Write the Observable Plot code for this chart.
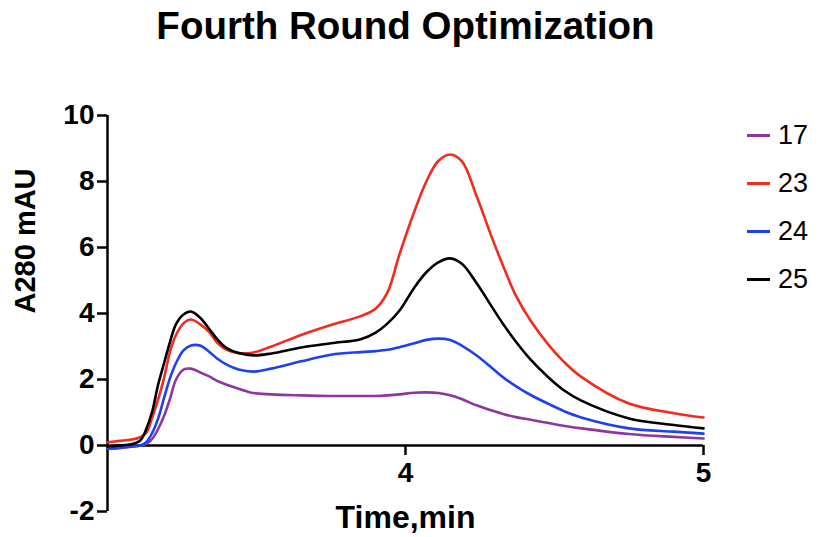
<!DOCTYPE html>
<html>
<head>
<meta charset="utf-8">
<script src="https://cdn.jsdelivr.net/npm/d3@7"></script>
<script src="https://cdn.jsdelivr.net/npm/@observablehq/plot@0.6"></script>
<style>
  html, body { margin: 0; padding: 0; background: #fff; }
  #wrap { position: relative; width: 819px; height: 537px; font-family: "Liberation Sans", Arial, Helvetica, sans-serif; }
  #title { position: absolute; left: 0; top: 0; width: 811px; text-align: center; font-size: 38.5px; font-weight: bold; line-height: 38px; padding-top: 7px; color: #000; }
  #chart { position: absolute; left: 0; top: 62px; }
  #legend { position: absolute; left: 746px; top: 116px; }
  .item { position: relative; height: 48px; }
  .sw { position: absolute; left: 1px; top: 18px; width: 23px; height: 3px; }
  .lab { position: absolute; left: 32px; top: 0px; font-size: 27px; line-height: 38px; color: #000; }
</style>
</head>
<body>
<div id="wrap">
  <div id="title">Fourth Round Optimization</div>
  <div id="chart"></div>
  <div id="legend"></div>
</div>
<script>
const title = "Fourth Round Optimization";
const xLabel = "Time,min";
const yLabel = "A280 mAU";
const series = ["17", "23", "24", "25"];
const colors = ["#8e35a2", "#f22a1f", "#1f3ff2", "#000000"];
const xTicks = [4, 5];
const yTicks = [-2, 0, 2, 4, 6, 8, 10];

const times = [3.00, 3.04, 3.08, 3.11, 3.13, 3.15, 3.17, 3.19, 3.21, 3.23, 3.255, 3.28, 3.31, 3.34, 3.37, 3.40, 3.44, 3.49, 3.55, 3.65, 3.75, 3.85, 3.90, 3.94, 3.98, 4.03, 4.07, 4.11, 4.15, 4.19, 4.24, 4.29, 4.33, 4.37, 4.42, 4.48, 4.53, 4.59, 4.75, 4.90, 5.00];
const s17 = [-0.10, -0.08, -0.04, 0.00, 0.05, 0.20, 0.50, 0.90, 1.42, 2.00, 2.30, 2.33, 2.22, 2.10, 1.95, 1.84, 1.72, 1.59, 1.55, 1.52, 1.50, 1.50, 1.50, 1.52, 1.55, 1.60, 1.61, 1.59, 1.52, 1.40, 1.21, 1.06, 0.95, 0.86, 0.78, 0.68, 0.60, 0.52, 0.35, 0.26, 0.21];
const s23 = [0.10, 0.14, 0.18, 0.25, 0.38, 0.85, 1.40, 2.05, 2.85, 3.35, 3.70, 3.82, 3.68, 3.45, 3.10, 2.90, 2.80, 2.82, 3.00, 3.35, 3.65, 3.92, 4.15, 4.65, 5.80, 7.10, 8.00, 8.62, 8.82, 8.60, 7.52, 6.30, 5.39, 4.55, 3.78, 3.05, 2.55, 2.08, 1.27, 0.98, 0.85];
const s24 = [-0.10, -0.07, -0.03, 0.00, 0.10, 0.38, 0.82, 1.45, 2.05, 2.50, 2.88, 3.03, 3.03, 2.85, 2.62, 2.45, 2.30, 2.24, 2.33, 2.55, 2.75, 2.83, 2.86, 2.90, 2.98, 3.10, 3.20, 3.24, 3.20, 3.02, 2.72, 2.35, 2.05, 1.80, 1.53, 1.26, 1.05, 0.85, 0.52, 0.42, 0.36];
const s25 = [-0.03, 0.00, 0.04, 0.15, 0.50, 1.03, 1.85, 2.50, 3.15, 3.68, 3.97, 4.06, 3.88, 3.55, 3.20, 2.95, 2.80, 2.73, 2.79, 2.97, 3.10, 3.22, 3.42, 3.70, 4.09, 4.79, 5.25, 5.55, 5.67, 5.50, 4.90, 4.20, 3.65, 3.15, 2.60, 2.06, 1.68, 1.36, 0.82, 0.62, 0.52];

const values = {"17": s17, "23": s23, "24": s24, "25": s25};
const rows = [];
for (const s of series) times.forEach((t, i) => rows.push({series: s, time: t, value: values[s][i]}));

document.getElementById("title").textContent = title;

const font = "Liberation Sans, Arial, Helvetica, sans-serif";
const plot = Plot.plot({
  width: 819,
  height: 475,
  marginTop: 53,
  marginBottom: 26,
  marginLeft: 107,
  marginRight: 116,
  style: {fontFamily: font, color: "#000", background: "transparent", overflow: "visible"},
  x: {domain: [3, 5], axis: null},
  y: {domain: [-2, 10], axis: null},
  color: {domain: series, range: colors},
  marks: [
    Plot.axisY({ticks: yTicks, tickSize: 10, tickPadding: 3, tickFormat: d => String(d), fontSize: 28, fontWeight: "bold", strokeWidth: 2.5, label: null}),
    Plot.ruleX([3], {y1: -2, y2: 10, strokeWidth: 2.5}),
    Plot.ruleY([0], {strokeWidth: 2.5}),
    Plot.ruleX(xTicks, {y1: 0, y2: 0, insetBottom: -10, strokeWidth: 2.5}),
    Plot.text(xTicks, {x: d => d, y: 0, dy: 28, text: d => String(d), fontSize: 28, fontWeight: "bold", lineAnchor: "middle"}),
    Plot.text([xLabel], {frameAnchor: "bottom", dy: 6, text: d => d, fontSize: 32, fontWeight: "bold", lineAnchor: "middle"}),
    Plot.text([yLabel], {frameAnchor: "left", dx: -82, rotate: -90, text: d => d, fontSize: 29, fontWeight: "bold", lineAnchor: "middle"}),
    Plot.line(rows, {x: "time", y: "value", z: "series", stroke: "series", strokeWidth: 2.6, curve: "catmull-rom"})
  ]
});
document.getElementById("chart").appendChild(plot);

const legend = document.getElementById("legend");
series.forEach((s, i) => {
  const item = document.createElement("div");
  item.className = "item";
  const sw = document.createElement("div");
  sw.className = "sw";
  sw.style.background = colors[i];
  const lab = document.createElement("div");
  lab.className = "lab";
  lab.textContent = s;
  item.appendChild(sw);
  item.appendChild(lab);
  legend.appendChild(item);
});
</script>
</body>
</html>
